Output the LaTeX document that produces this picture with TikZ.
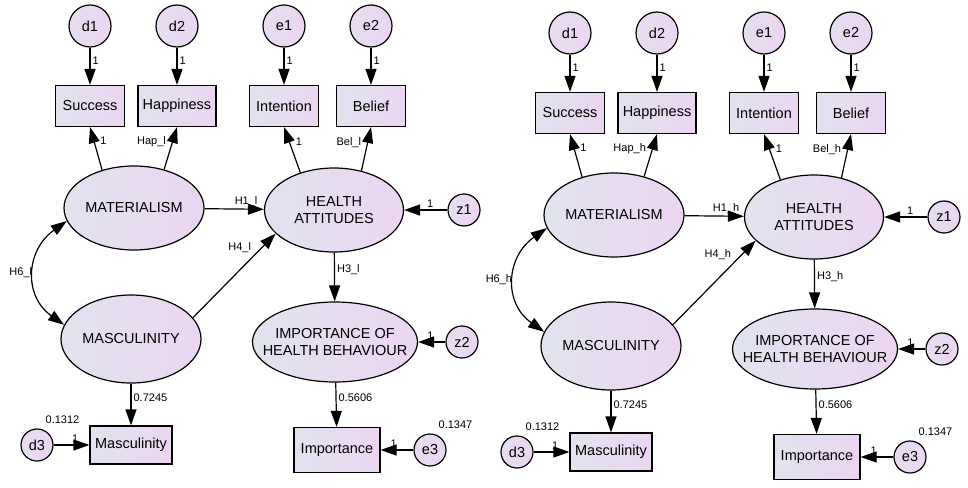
\documentclass[tikz,border=0pt]{standalone}
\usepackage{fontspec}
\setmainfont{Liberation Sans}
\usetikzlibrary{shapes.geometric,arrows.meta}
\definecolor{semgray}{HTML}{E1E3EE}
\definecolor{sempink}{HTML}{ECD5F2}
\tikzset{
  latent/.style={ellipse,draw,left color=semgray,right color=sempink,inner sep=0pt,align=center,font=\fontsize{14.5}{16.5}\selectfont},
  obs/.style={rectangle,draw,left color=semgray,right color=sempink,inner sep=0pt,minimum height=41pt,font=\fontsize{14.5}{16.5}\selectfont},
  err/.style={circle,draw,left color=semgray!60!sempink,right color=sempink,inner sep=0pt,minimum size=32pt,font=\fontsize{14.5}{16.5}\selectfont},
  topcirc/.style={minimum size=42pt},
  lbl/.style={font=\fontsize{11}{12}\selectfont,inner sep=2pt}
}
\begin{document}
\begin{tikzpicture}[x=1pt,y=-1pt,line width=1.2pt,node distance=80pt,>={Triangle[length=16pt,width=11pt]}]
\useasboundingbox (0,0) rectangle (968,487);
\foreach \s/\dx/\dy in {l/0/0,h/480/7}{
\begin{scope}[shift={(\dx,\dy)}]
\node[latent,minimum width=140pt,minimum height=84pt](MAT\s) at (134,208){MATERIALISM};
\node[latent,minimum width=139pt,minimum height=84pt](HEALTH\s) at (334,210){HEALTH\\ATTITUDES};
\node[latent,minimum width=140pt,minimum height=88pt,inner xsep=-4pt](MASC\s) at (131,339){MASCULINITY};
\node[latent,minimum width=165pt,minimum height=80pt,inner xsep=-15pt](IMP\s) at (335,342){IMPORTANCE OF\\HEALTH BEHAVIOUR};
\node[obs,minimum width=69pt](SUCC\s) at (90,106){Success};
\node[obs,minimum width=78pt](HAP\s) at (177,106){Happiness};
\node[obs,minimum width=69pt](INTENT\s) at (284,106){Intention};
\node[obs,minimum width=69pt](BELIEF\s) at (371,106){Belief};
\node[obs,minimum width=82pt,minimum height=38pt](MASCBOX\s) at (131,445){Masculinity};
\node[obs,minimum width=86pt,minimum height=45pt](IMPBOX\s) at (337,450){Importance};
\node[err,topcirc,above of = SUCC\s](D1\s){d1};
\node[err,topcirc,above of = HAP\s](D2\s){d2};
\node[err,topcirc,above of = INTENT\s](E1\s){e1};
\node[err,topcirc,above of = BELIEF\s](E2\s){e2};
\node[err,right of = HEALTH\s,node distance=130pt](Z1\s){z1};
\node[err,right of = IMP\s,node distance=127pt](Z2\s){z2};
\node[err,left of = MASCBOX\s,node distance=94pt](D3\s){d3};
\node[err,right of = IMPBOX\s,node distance=93pt](E3\s){e3};
\node[lbl,above right of = D3\s,node distance=36pt](VD3\s){0.1312};
\node[lbl,above right of = E3\s,node distance=36pt](VE3\s){0.1347};
\draw[->](D1\s)--node[lbl,right,pos=0.35]{1}(SUCC\s);
\draw[->](D2\s)--node[lbl,right,pos=0.35]{1}(HAP\s);
\draw[->](E1\s)--node[lbl,right,pos=0.35]{1}(INTENT\s);
\draw[->](E2\s)--node[lbl,right,pos=0.35]{1}(BELIEF\s);
\draw[->](MAT\s.130)--node[lbl,right=4pt,pos=0.68]{1}(SUCC\s.south);
\draw[->](MAT\s.52)--node[lbl,left=4pt,pos=0.65]{Hap\_\s}(HAP\s.south);
\draw[->](HEALTH\s.132)--node[lbl,right=4pt,pos=0.68]{1}(INTENT\s.south);
\draw[->](HEALTH\s.55)--node[lbl,left=4pt,pos=0.65]{Bel\_\s}(BELIEF\s.south);
\draw[->](MAT\s)--node[lbl,above,pos=0.7]{H1\_\s}(HEALTH\s);
\draw[->](Z1\s)--node[lbl,above,pos=0.4]{1}(HEALTH\s);
\draw[->](MASC\s.19)--node[lbl,left=8pt,pos=0.83]{H4\_\s}(HEALTH\s.202);
\draw[->](HEALTH\s)--node[lbl,right,pos=0.35]{H3\_\s}(IMP\s);
\draw[->](Z2\s)--node[lbl,above,pos=0.55]{1}(IMP\s);
\draw[->](IMP\s)--node[lbl,right,pos=0.33]{0.5606}(IMPBOX\s);
\draw[->](MASC\s)--node[lbl,right,pos=0.33]{0.7245}(MASCBOX\s);
\draw[->](D3\s)--node[lbl,above,pos=0.6]{1}(MASCBOX\s);
\draw[->](E3\s)--node[lbl,above,pos=0.6]{1}(IMPBOX\s);
\draw[<->](MAT\s.191)..controls +(-41,29) and +(-41,-29)..node[lbl,left]{H6\_\s}(MASC\s.168);
\end{scope}}
\end{tikzpicture}
\end{document}
